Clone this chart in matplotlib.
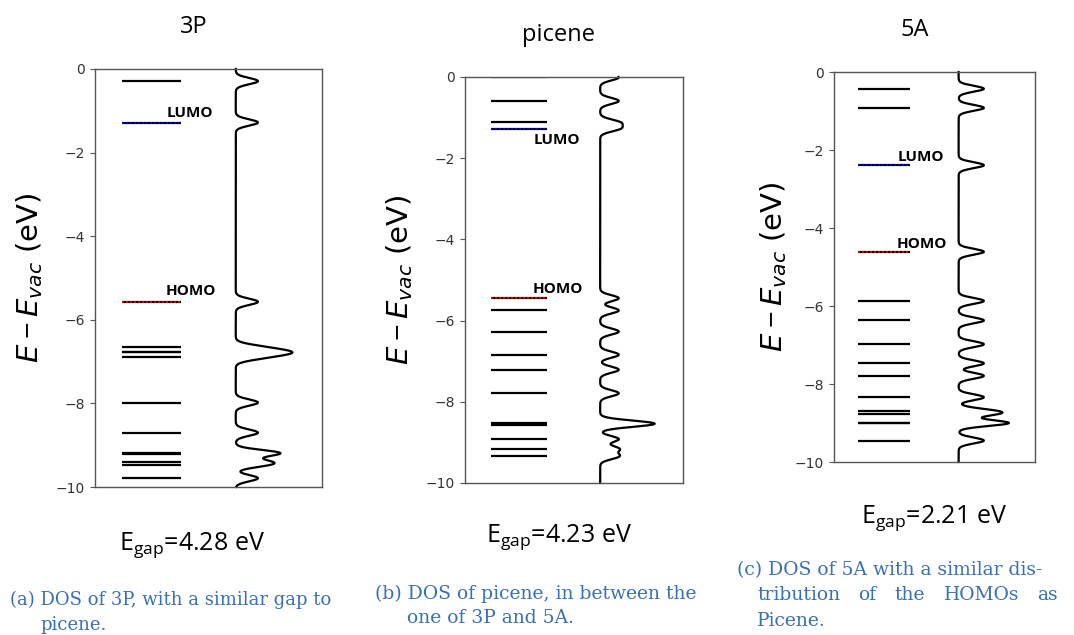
import numpy as np
from matplotlib import pyplot as plt

W, H = 1074, 635

plt.rcParams['mathtext.fontset'] = 'custom'
plt.rcParams['mathtext.rm'] = 'Open Sans'
plt.rcParams['mathtext.it'] = 'DejaVu Sans:italic'
plt.rcParams['mathtext.bf'] = 'DejaVu Sans:bold'

# energy levels (eV), repeated values = degenerate levels
levels_3p = [-0.29, -7.98, -8.70, -6.66, -6.78, -6.78, -6.90, -9.18, -9.20, -9.39, -9.47, -9.79]
lumo_3p = -1.28
homo_3p = -5.57

levels_picene = [-0.01, -0.59, -1.12, -5.75, -6.27, -6.84, -7.21, -7.79,
                 -8.52, -8.54, -8.56, -8.92, -9.16, -9.34]
lumo_picene = -1.27
homo_picene = -5.45

levels_5a = [-0.43, -0.92, -5.87, -6.37, -6.98, -7.47, -7.79, -8.34, -8.69, -8.77,
             -8.99, -9.01, -9.45]
lumo_5a = -2.39
homo_5a = -4.61

titles = ['3P', 'picene', '5A']
gaps = ['4.28', '4.23', '2.21']

sigma = 0.075
energy = np.linspace(-10, 0, 2001)

# axes boxes in pixels: left, top, right, bottom
boxes = [(95, 69, 322, 487), (465, 77, 683, 483), (834, 72, 1035, 462)]
title_pos = [(194, 27), (558, 35), (915, 30)]
gap_pos = [(192, 545), (559, 537), (934, 518)]
ylab_x = [30, 400, 774]
# label offsets in eV (lumo, homo)
lab_off = [(0.23, 0.26), (-0.29, 0.22), (0.21, 0.2)]

fig = plt.figure(figsize=(W / 100, H / 100), dpi=100)

data = [(levels_3p, lumo_3p, homo_3p),
        (levels_picene, lumo_picene, homo_picene),
        (levels_5a, lumo_5a, homo_5a)]

for i, (lev, lumo, homo) in enumerate(data):
    l, t, r, b = boxes[i]
    ax = fig.add_axes([l / W, 1 - b / H, (r - l) / W, (b - t) / H])
    ax.set_xlim(0, 1)
    ax.set_ylim(-10, 0)
    ax.set_xticks([])
    ax.set_yticks([0, -2, -4, -6, -8, -10])
    ax.tick_params(axis='y', labelsize=10, length=3.5, color='#555555', labelcolor='#333333')
    for s in ax.spines.values():
        s.set_color('#555555')
        s.set_linewidth(1)

    allE = np.array(list(lev) + [lumo, homo])
    for e in allE:
        ax.plot([0.12, 0.377], [e, e], color='black', lw=1.6, solid_capstyle='butt')
    ax.plot([0.12, 0.377], [lumo, lumo], color='blue', lw=1.2, ls=(0, (1.2, 1.2)))
    ax.plot([0.12, 0.377], [homo, homo], color='red', lw=1.2, ls=(0, (1.2, 1.2)))

    dos = np.zeros_like(energy)
    for e in allE:
        dos += np.exp(-(energy - e) ** 2 / (2 * sigma ** 2))
    ax.plot(0.62 + 0.25 * dos / dos.max(), energy, color='black', lw=1.6, clip_on=False)

    lo, ho = lab_off[i]
    ax.text(0.315, lumo + lo, 'LUMO', fontsize=11, fontweight='bold', family='Open Sans',
            ha='left', va='center')
    ax.text(0.31, homo + ho, 'HOMO', fontsize=11, fontweight='bold', family='Open Sans',
            ha='left', va='center')

    fig.text(title_pos[i][0] / W, 1 - title_pos[i][1] / H, titles[i], fontsize=17,
             family='Open Sans', ha='center', va='center')
    fig.text(gap_pos[i][0] / W, 1 - gap_pos[i][1] / H, r'E$_{\rm gap}$=' + gaps[i] + ' eV',
             fontsize=18, family='Open Sans', ha='center', va='center')
    fig.text(ylab_x[i] / W, 1 - (t + b) / 2 / H, r'$E - E_{vac}$ (eV)', fontsize=21,
             rotation=90, ha='center', va='center')

cap = dict(fontsize=13.5, family='DejaVu Serif', color='#3a70b5', va='center', ha='left')
fig.text(10 / W, 1 - 600 / H, '(a) DOS of 3P, with a similar gap to', **dict(cap, fontsize=13))
fig.text(40 / W, 1 - 625 / H, 'picene.', **dict(cap, fontsize=13))
fig.text(375 / W, 1 - 594 / H, '(b) DOS of picene, in between the', **cap)
fig.text(407 / W, 1 - 618 / H, 'one of 3P and 5A.', **cap)
fig.text(737 / W, 1 - 570 / H, '(c) DOS of 5A with a similar dis-', **cap)
fig.text(757 / W, 1 - 621 / H, 'Picene.', **cap)

# justified middle line of caption (c)
words = ['tribution', 'of', 'the', 'HOMOs', 'as']
x0, x1 = 757, 1058
renderer = fig.canvas.get_renderer()
txts = [fig.text(0, 1 - 595 / H, w, **cap) for w in words]
widths = [tx.get_window_extent(renderer).width for tx in txts]
gap = (x1 - x0 - sum(widths)) / (len(words) - 1)
x = x0
for tx, w in zip(txts, widths):
    tx.set_x(x / W)
    x += w + gap

fig.savefig('out.png', dpi=100)
